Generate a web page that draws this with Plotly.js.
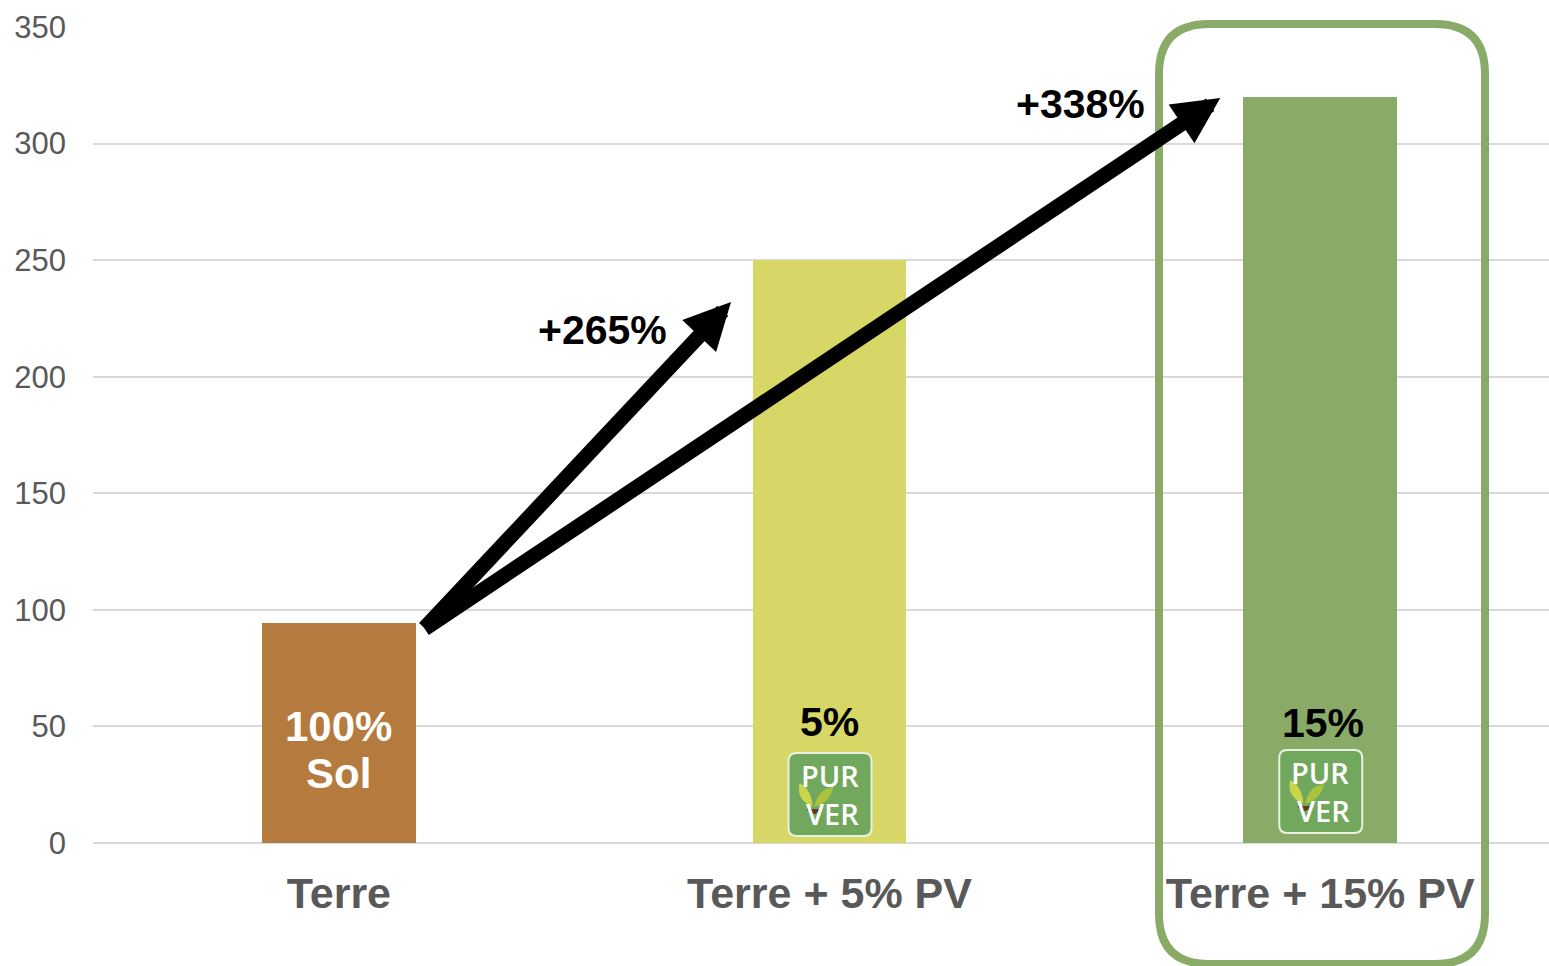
<!DOCTYPE html>
<html>
<head>
<meta charset="utf-8">
<script src="https://cdn.plot.ly/plotly-3.0.1.min.js"></script>
<style>
html,body{margin:0;padding:0;background:#fff;}
#chart{width:1549px;height:966px;}
</style>
</head>
<body>
<div id="chart"></div>
<script>
// ---- data ----
const categories = ["Terre", "Terre + 5% PV", "Terre + 15% PV"];
const values = [94.5, 250, 320];
const barColors = ["#b57a3d", "#d6d767", "#8aaa68"];
const barLabelsTop = ["100%", "5%", "15%"];
const barLabelsBottom = ["Sol", "", ""];
const growthLabels = ["+265%", "+338%"];
const yTicks = [0, 50, 100, 150, 200, 250, 300, 350];

// ---- layout geometry ----
const W = 1549, H = 966;
const M = {l: 93, r: 0, t: 27, b: 123};
const plotW = W - M.l - M.r, plotH = H - M.t - M.b;
const pxPerCat = 490.7;
const xr0 = -0.501, xr1 = xr0 + plotW / pxPerCat;
const barW = 0.3136;
const px2paperX = p => (p - M.l) / plotW;
const px2paperY = p => (H - M.b - p) / plotH;

const trace = {
  type: "bar",
  x: [0, 1, 2],
  y: values,
  width: barW,
  marker: {color: barColors, line: {width: 0}},
  hoverinfo: "skip"
};

const FONT = "Liberation Sans, Arial, sans-serif";
const annotations = [];
// bar labels
annotations.push({x: 0, y: 49.8, xref: "x", yref: "y", text: "<b>" + barLabelsTop[0] + "</b>", showarrow: false,
  font: {family: FONT, size: 42, color: "#ffffff"}});
annotations.push({x: 0, y: 30, xref: "x", yref: "y", text: "<b>" + barLabelsBottom[0] + "</b>", showarrow: false,
  font: {family: FONT, size: 42, color: "#ffffff"}});
annotations.push({x: 1, y: 51.9, xref: "x", yref: "y", text: "<b>" + barLabelsTop[1] + "</b>", showarrow: false,
  font: {family: FONT, size: 41, color: "#000000"}});
annotations.push({x: 2.005, y: 51.5, xref: "x", yref: "y", text: "<b>" + barLabelsTop[2] + "</b>", showarrow: false,
  font: {family: FONT, size: 41, color: "#000000"}});

// arrows derived from bar tops
const tailX = 0 + barW / 2 + 0.015, tailY = values[0] - 3;
const tips = [
  {x: 1 - barW / 2 - 0.044, y: values[1] - 18},
  {x: 2 - barW / 2 - 0.047, y: values[2] - 0.5}
];
tips.forEach(t => {
  annotations.push({x: t.x, y: t.y, xref: "x", yref: "y", ax: tailX, ay: tailY, axref: "x", ayref: "y",
    text: "", showarrow: true, arrowhead: 2, arrowsize: 0.62, arrowwidth: 15, arrowcolor: "#000000", standoff: 0});
});
// growth labels
annotations.push({x: 0.537, y: 220, xref: "x", yref: "y", text: "<b>" + growthLabels[0] + "</b>", showarrow: false,
  font: {family: FONT, size: 41, color: "#000000"}});
annotations.push({x: 1.512, y: 317, xref: "x", yref: "y", text: "<b>" + growthLabels[1] + "</b>", showarrow: false,
  font: {family: FONT, size: 41, color: "#000000"}});

// logo texts (PUR / VER) on bars 1 and 2
[1, 2].forEach((c, i) => {
  const dy = i === 0 ? 0 : 3;
  annotations.push({x: c, y: 0, xref: "x", yref: "y", yshift: 68 + dy, xshift: 0, text: "PUR", showarrow: false,
    borderpad: 0, font: {family: "Open Sans, sans-serif", size: 29, color: "#ffffff", weight: 600}});
  annotations.push({x: c, y: 0, xref: "x", yref: "y", yshift: 30 + dy, xshift: 3, text: "VER", showarrow: false,
    borderpad: 0, font: {family: "Open Sans, sans-serif", size: 29, color: "#ffffff", weight: 600}});
});

const shapes = [];
// logo boxes
[1, 2].forEach((c, i) => {
  const dy = i === 0 ? 0 : 3;
  const x0 = -41, x1 = 42, y0 = 7 + dy, y1 = 90 + dy, r = 8;
  const p = `M${x0 + r},${y0} L${x1 - r},${y0} Q${x1},${y0} ${x1},${y0 + r} L${x1},${y1 - r} Q${x1},${y1} ${x1 - r},${y1} ` +
            `L${x0 + r},${y1} Q${x0},${y1} ${x0},${y1 - r} L${x0},${y0 + r} Q${x0},${y0} ${x0 + r},${y0} Z`;
  shapes.push({type: "path", xref: "x", yref: "y", xsizemode: "pixel", ysizemode: "pixel", xanchor: c, yanchor: 0,
    path: p, fillcolor: "#72a85d", line: {color: "#e9f2e2", width: 2}, layer: "above"});
  // leaves
  shapes.push({type: "path", xref: "x", yref: "y", xsizemode: "pixel", ysizemode: "pixel", xanchor: c, yanchor: 0,
    path: `M-17,${36 + dy} Q-34,${44 + dy} -30,${60 + dy} Q-18,${54 + dy} -17,${36 + dy} Z`,
    fillcolor: "#c9d64a", line: {width: 0}, layer: "above"});
  shapes.push({type: "path", xref: "x", yref: "y", xsizemode: "pixel", ysizemode: "pixel", xanchor: c, yanchor: 0,
    path: `M-15,${36 + dy} Q-12,${54 + dy} 4,${56 + dy} Q0,${40 + dy} -15,${36 + dy} Z`,
    fillcolor: "#a9c43c", line: {width: 0}, layer: "above"});
  shapes.push({type: "path", xref: "x", yref: "y", xsizemode: "pixel", ysizemode: "pixel", xanchor: c, yanchor: 0,
    path: `M-23,${34 + dy} Q-16,${24 + dy} -9,${34 + dy} Z`,
    fillcolor: "#5b3a26", line: {width: 0}, layer: "above"});
});

// rounded highlight frame around the third category
(function () {
  const L = px2paperX(1159), R = px2paperX(1485), T = px2paperY(24), B = px2paperY(964);
  const rx = 50 / plotW, ry = 50 / plotH;
  const p = `M${L + rx},${T} L${R - rx},${T} Q${R},${T} ${R},${T - ry} L${R},${B + ry} Q${R},${B} ${R - rx},${B} ` +
            `L${L + rx},${B} Q${L},${B} ${L},${B + ry} L${L},${T - ry} Q${L},${T} ${L + rx},${T} Z`;
  shapes.push({type: "path", xref: "paper", yref: "paper", path: p, line: {color: "#8aaa68", width: 8},
    fillcolor: "rgba(0,0,0,0)", layer: "above"});
})();

const layout = {
  width: W, height: H,
  margin: M,
  paper_bgcolor: "#ffffff", plot_bgcolor: "#ffffff",
  showlegend: false,
  bargap: 0,
  xaxis: {
    range: [xr0, xr1], tickvals: [0, 1, 2], ticktext: categories.map(c => "<b>" + c + "</b>"),
    showgrid: false, zeroline: false, showline: false, ticks: "",
    tickfont: {family: FONT, size: 43, color: "#595959"},
    ticklabelstandoff: 21, fixedrange: true
  },
  yaxis: {
    range: [0, 350], tickvals: yTicks, ticktext: yTicks.map(String),
    showgrid: true, gridcolor: "#d9d9d9", gridwidth: 2,
    zeroline: true, zerolinecolor: "#d9d9d9", zerolinewidth: 2,
    showline: false, ticks: "",
    tickfont: {family: FONT, size: 31, color: "#595959"},
    ticklabelstandoff: 26, fixedrange: true
  },
  annotations: annotations,
  shapes: shapes
};

Plotly.newPlot("chart", [trace], layout, {displayModeBar: false, staticPlot: true});
</script>
</body>
</html>
